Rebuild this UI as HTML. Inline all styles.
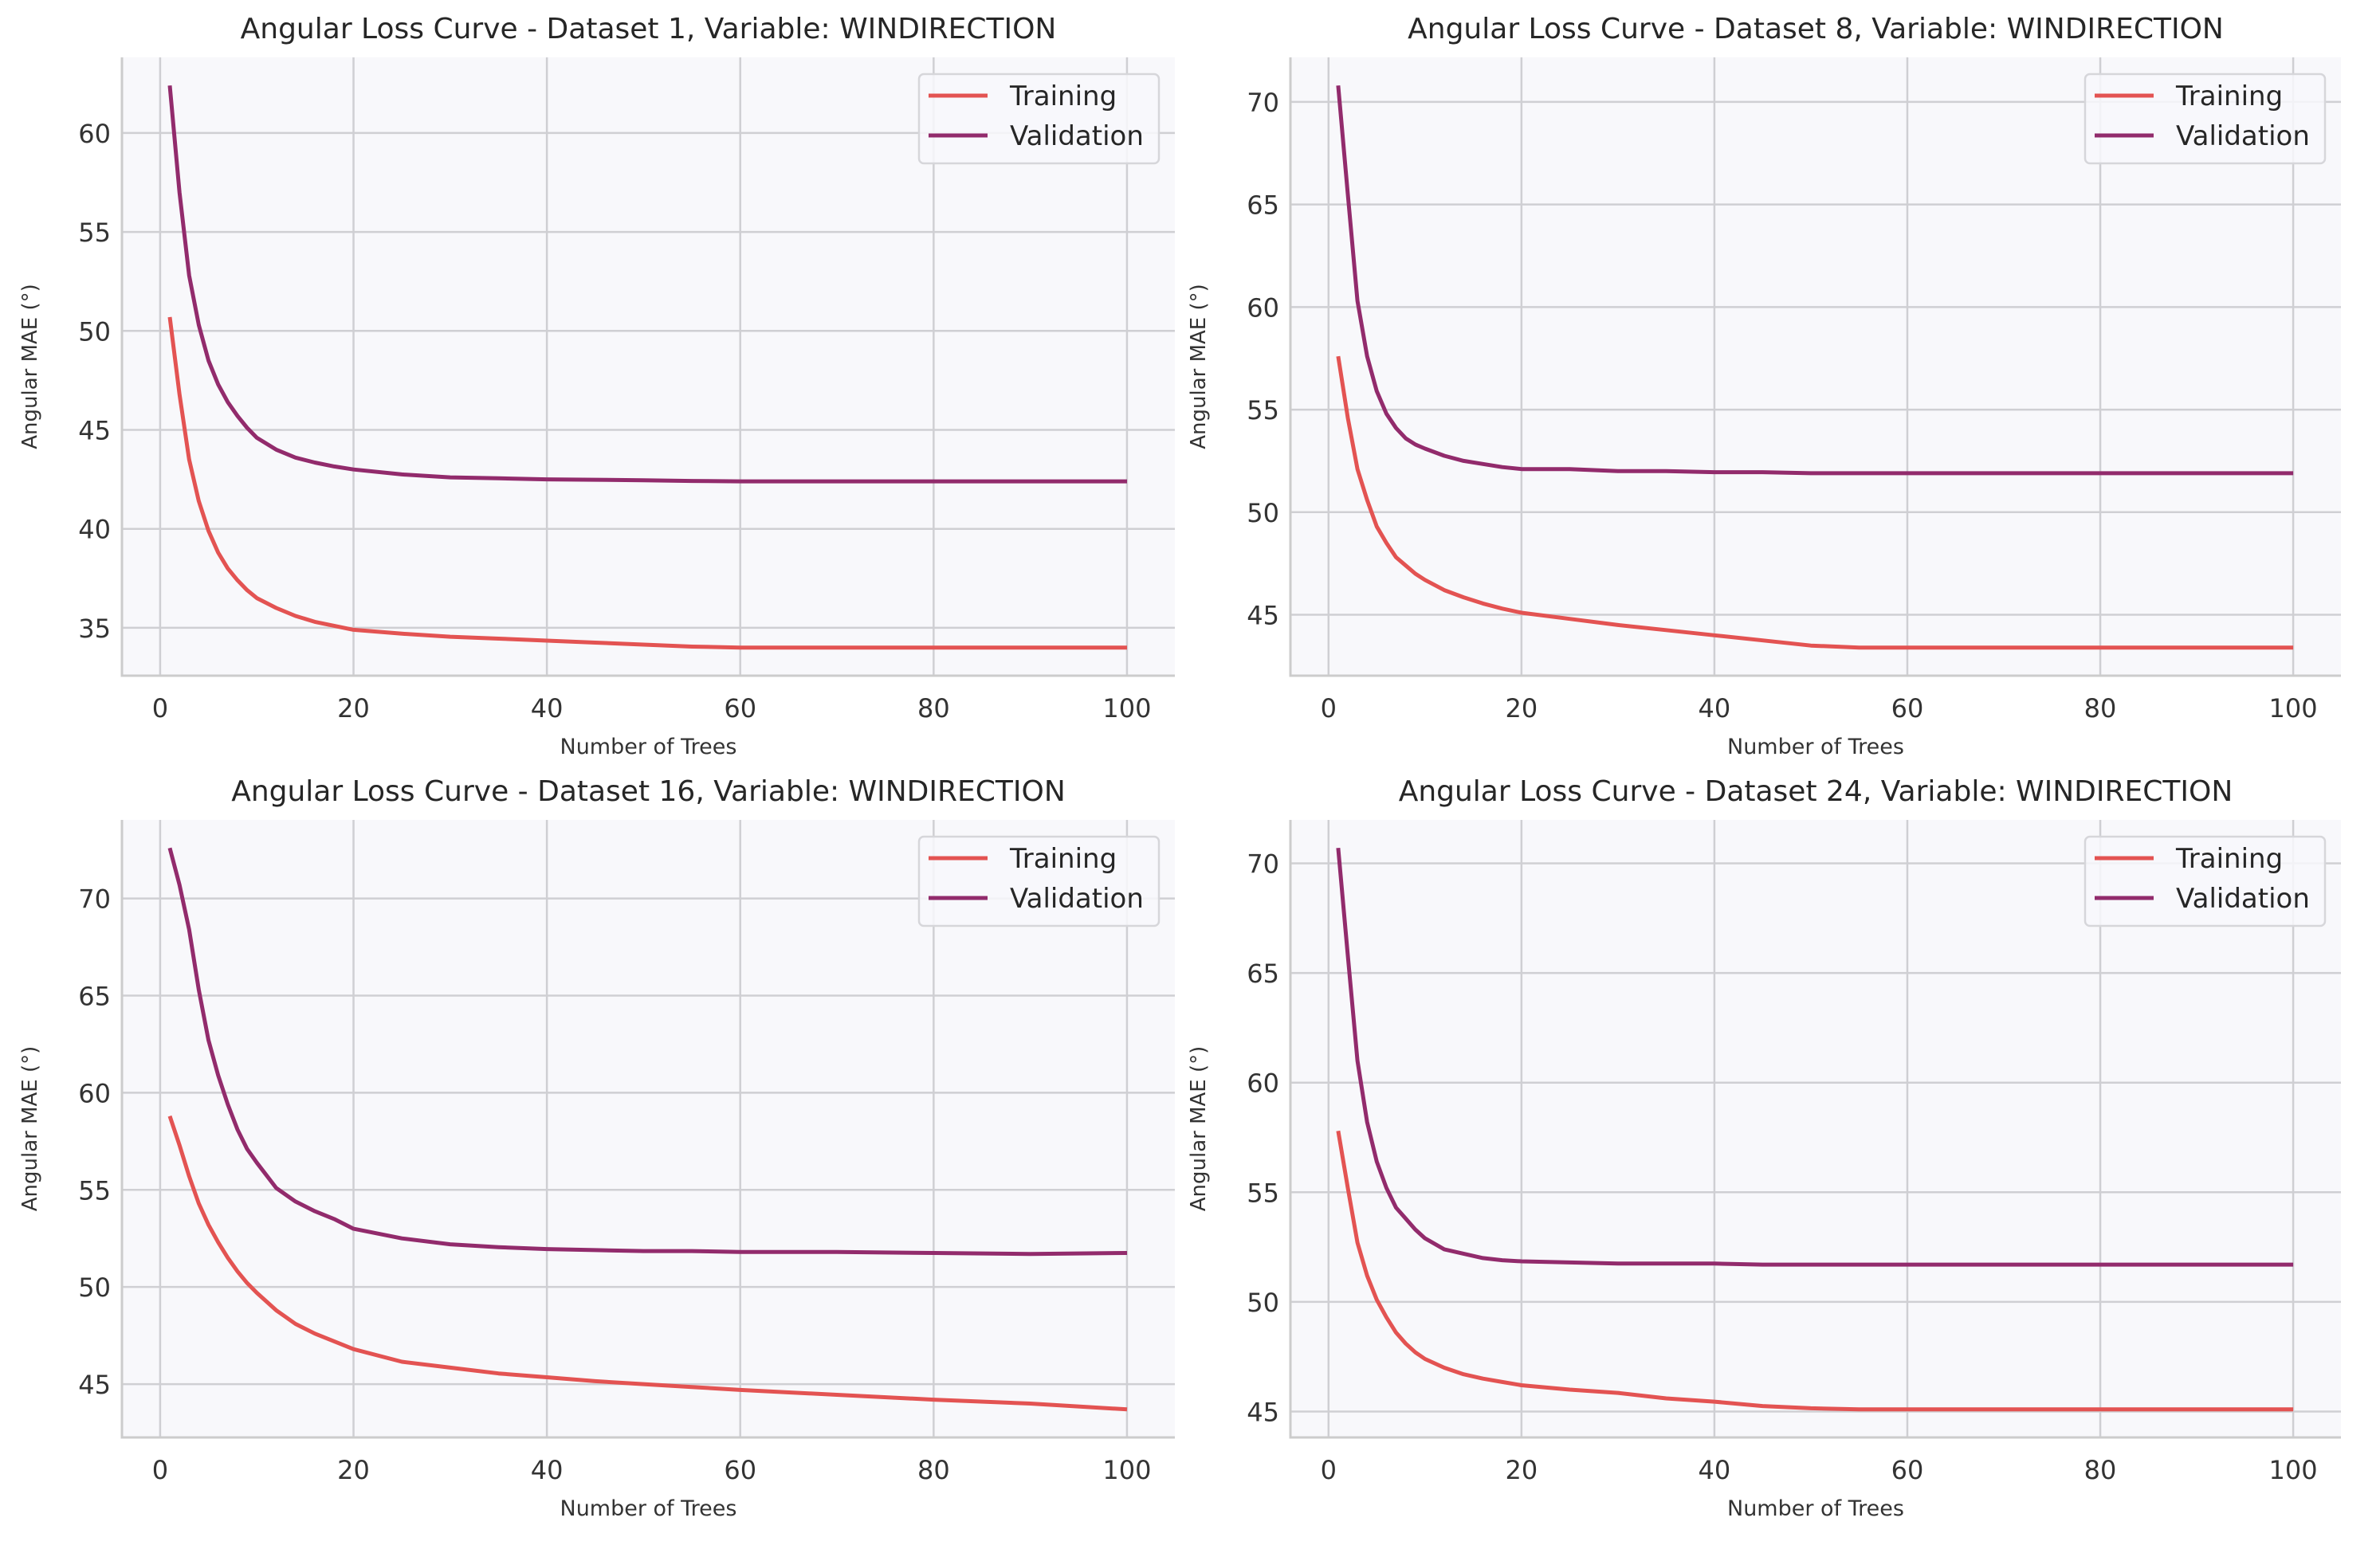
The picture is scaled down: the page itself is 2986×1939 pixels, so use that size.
<!DOCTYPE html>
<html><head><meta charset="utf-8">
<style>
html,body{margin:0;padding:0;background:#fff;}
svg{display:block;font-family:"DejaVu Sans","Liberation Sans",sans-serif;}
</style></head>
<body>
<svg id="fig" width="2986" height="1939" viewBox="0 0 2986 1939" xmlns="http://www.w3.org/2000/svg"></svg>
<script>
const trees = [1,2,3,4,5,6,7,8,9,10,12,14,16,18,20,25,30,35,40,45,50,55,60,70,80,90,100];
const xTicks = [0,20,40,60,80,100];
const datasetIds = [1,8,16,24];
const train1 = [50.7,46.8,43.5,41.4,39.9,38.8,38.0,37.4,36.9,36.5,36.0,35.6,35.3,35.1,34.9,34.7,34.55,34.45,34.35,34.25,34.15,34.05,34.0,34.0,34.0,34.0,34.0];
const val1 = [62.4,57.0,52.8,50.3,48.5,47.3,46.4,45.7,45.1,44.6,44.0,43.6,43.35,43.15,43.0,42.75,42.6,42.55,42.5,42.48,42.45,42.42,42.4,42.4,42.4,42.4,42.4];
const train8 = [57.6,54.6,52.1,50.6,49.3,48.5,47.8,47.4,47.0,46.7,46.2,45.85,45.55,45.3,45.1,44.8,44.5,44.25,44.0,43.75,43.5,43.4,43.4,43.4,43.4,43.4,43.4];
const val8 = [70.8,65.5,60.3,57.6,55.9,54.8,54.1,53.6,53.3,53.1,52.75,52.5,52.35,52.2,52.1,52.1,52.0,52.0,51.95,51.95,51.9,51.9,51.9,51.9,51.9,51.9,51.9];
const train16 = [58.8,57.3,55.7,54.3,53.2,52.3,51.5,50.8,50.2,49.7,48.8,48.1,47.6,47.2,46.8,46.15,45.85,45.55,45.35,45.15,45.0,44.85,44.7,44.45,44.2,44.0,43.7];
const val16 = [72.6,70.7,68.4,65.3,62.7,60.9,59.4,58.1,57.1,56.4,55.1,54.4,53.9,53.5,53.0,52.5,52.2,52.05,51.95,51.9,51.85,51.85,51.8,51.8,51.75,51.7,51.75];
const train24 = [57.8,55.2,52.7,51.2,50.1,49.3,48.6,48.1,47.7,47.4,47.0,46.7,46.5,46.35,46.2,46.0,45.85,45.6,45.45,45.25,45.15,45.1,45.1,45.1,45.1,45.1,45.1];
const val24 = [70.7,65.8,61.0,58.2,56.4,55.2,54.3,53.8,53.3,52.9,52.4,52.2,52.0,51.9,51.85,51.8,51.75,51.75,51.75,51.7,51.7,51.7,51.7,51.7,51.7,51.7,51.7];
const trainSeries = [train1,train8,train16,train24];
const valSeries = [val1,val8,val16,val24];

const NS = "http://www.w3.org/2000/svg";
const svg = document.getElementById('fig');
function mk(tag, attrs, parent, text){
  const e = document.createElementNS(NS, tag);
  for (const k in attrs) e.setAttribute(k, attrs[k]);
  if (text !== undefined) e.textContent = text;
  parent.appendChild(e);
  return e;
}
const panels = [
  {l:153, r:1474, t:72, b:848},
  {l:1619, r:2937, t:72, b:848},
  {l:153, r:1474, t:1029, b:1804},
  {l:1619, r:2937, t:1029, b:1804}
];
const TRAIN_C = "#e35352", VAL_C = "#922b6c";

panels.forEach((p, i) => {
  const g = mk('g', {}, svg);
  
  
  const tr = trainSeries[i], va = valSeries[i];
  const all = tr.concat(va);
  let mn = Math.min(...all), mx = Math.max(...all);
  const m = (mx - mn) * 0.05; const y0 = mn - m, y1 = mx + m;
  const xmn = Math.min(...trees), xmx = Math.max(...trees);
  const xm = (xmx - xmn) * 0.05; const x0 = xmn - xm, x1 = xmx + xm;
  const X = v => p.l + (v - x0) / (x1 - x0) * (p.r - p.l);
  const Y = v => p.b - (v - y0) / (y1 - y0) * (p.b - p.t);

  const bg = mk('rect', {x:p.l, y:p.t, width:p.r-p.l, height:p.b-p.t, fill:'#f8f8fb'}, g);
  
  

  xTicks.forEach(t => {
    const x = X(t);
    const gl = mk('line', {x1:x, x2:x, y1:p.t, y2:p.b, stroke:'#cfcfd3', 'stroke-width':2.5}, g);
    
    
    const tl = mk('text', {x:x, y:p.b+52, 'text-anchor':'middle', 'font-size':32, fill:'#333'}, g, String(t));
    
    
  });
  for (let t = Math.ceil(y0/5)*5; t <= y1; t += 5) {
    const y = Y(t);
    const gl = mk('line', {x1:p.l, x2:p.r, y1:y, y2:y, stroke:'#cfcfd3', 'stroke-width':2.5}, g);
    
    
    const tl = mk('text', {x:p.l-14, y:y+12, 'text-anchor':'end', 'font-size':32, fill:'#333'}, g, String(t));
    
    
  }
  const sl = mk('line', {x1:p.l, x2:p.l, y1:p.t, y2:p.b+1.5, stroke:'#cccccc', 'stroke-width':3}, g);
  
  
  const sb = mk('line', {x1:p.l-1.5, x2:p.r, y1:p.b, y2:p.b, stroke:'#cccccc', 'stroke-width':3}, g);
  
  

  const pts = arr => arr.map((v, k) => X(trees[k]).toFixed(1) + ',' + Y(v).toFixed(1)).join(' ');
  const lt = mk('polyline', {points:pts(tr), fill:'none', stroke:TRAIN_C, 'stroke-width':5, 'stroke-linejoin':'round'}, g);
  
  
  const lv = mk('polyline', {points:pts(va), fill:'none', stroke:VAL_C, 'stroke-width':5, 'stroke-linejoin':'round'}, g);
  
  

  const cx = (p.l + p.r) / 2;
  const tt = mk('text', {x:cx, y:p.t-24, 'text-anchor':'middle', 'font-size':36, fill:'#262626'}, g,
    'Angular Loss Curve - Dataset ' + datasetIds[i] + ', Variable: WINDIRECTION');
  
  
  const xl = mk('text', {x:cx, y:p.b+98, 'text-anchor':'middle', 'font-size':27, fill:'#333'}, g, 'Number of Trees');
  
  
  const ym = (p.t + p.b) / 2;
  const yl = mk('text', {x:0, y:0, 'text-anchor':'middle', 'font-size':26, fill:'#333', transform:'translate(' + (p.l-107) + ',' + ym + ') rotate(-90)'}, g, 'Angular MAE (°)');
  
  

  const lx = p.r - 321, ly = p.t + 21;
  const lg = mk('g', {}, g);
  
  
  mk('rect', {x:lx, y:ly, width:301, height:112, rx:6, fill:'#f8f8fb', 'fill-opacity':0.85, stroke:'#d6d6da', 'stroke-width':2.5}, lg);
  const e1 = mk('g', {}, lg);
  
  
  mk('line', {x1:lx+12, x2:lx+86, y1:ly+27, y2:ly+27, stroke:TRAIN_C, 'stroke-width':5}, e1);
  mk('text', {x:lx+114, y:ly+39, 'font-size':34, fill:'#262626'}, e1, 'Training');
  const e2 = mk('g', {}, lg);
  
  
  mk('line', {x1:lx+12, x2:lx+86, y1:ly+77, y2:ly+77, stroke:VAL_C, 'stroke-width':5}, e2);
  mk('text', {x:lx+114, y:ly+89, 'font-size':34, fill:'#262626'}, e2, 'Validation');
});
</script>
</body></html>
